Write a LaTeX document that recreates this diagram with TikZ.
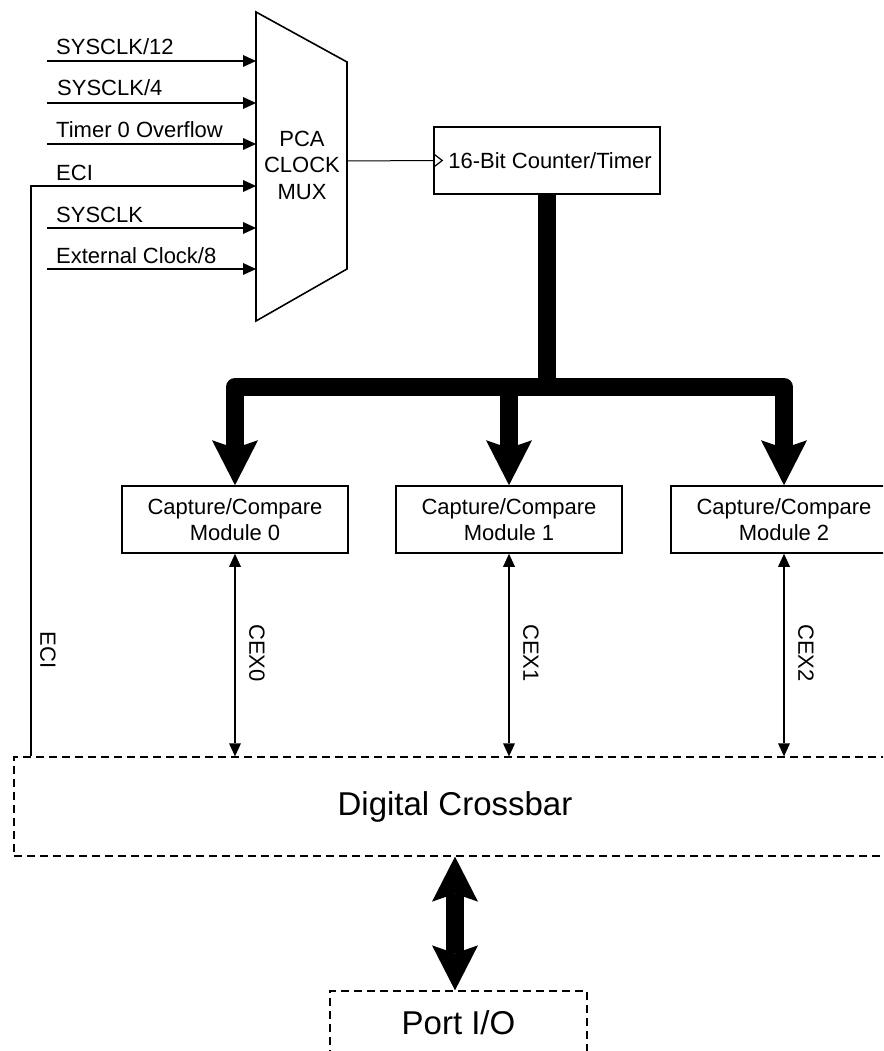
\documentclass[tikz,border=0pt]{standalone}
\usepackage{fontspec}
\setmainfont{Liberation Sans}
\usetikzlibrary{arrows.meta}
\tikzset{
  bigtip/.tip={Stealth[length=45pt,width=46pt,inset=8pt,line width=0pt]},
  smalltip/.tip={Triangle[length=13pt,width=12pt,line width=0pt]},
  txt/.style={font=\fontsize{22}{26.5}\selectfont, inner sep=0pt},
  box/.style={draw, line width=1.6pt, minimum width=226pt, minimum height=67pt, inner sep=0pt, align=center, txt},
  dbox/.style={draw, line width=1.3pt, dash pattern=on 8pt off 5pt, inner sep=0pt, font=\fontsize{33}{38}\selectfont},
  inline/.style={line width=2pt, -{smalltip}},
  cex/.style={line width=1.8pt, {smalltip}-{smalltip}},
  bus/.style={line width=18pt, line join=round},
  lbl/.style={txt, anchor=base west},
  vlbl/.style={txt, rotate=-90}
}
\begin{document}
\begin{tikzpicture}[x=1pt,y=-1pt]
\clip (0,0) rectangle (883,1051);
\fill[white] (0,0) rectangle (883,1051);

% MUX
\coordinate (mtl) at (256,12);
\coordinate (mtr) at (347,62);
\coordinate (mbr) at (347,269);
\coordinate (mbl) at (256,321);
\draw[line width=1.6pt, line join=miter] (mtl) -- (mtr) -- (mbr) -- (mbl) -- cycle;
\node[txt, align=center] (muxt) at (302,165) {PCA\\CLOCK\\MUX};
\coordinate (mout) at (347,161);

% inputs
\coordinate (i1s) at (47,61);  \coordinate (i1e) at (256,61);
\coordinate (i2s) at (47,103); \coordinate (i2e) at (256,103);
\coordinate (i3s) at (47,144); \coordinate (i3e) at (256,144);
\coordinate (i4c) at (31,186); \coordinate (i4e) at (256,186);
\coordinate (i5s) at (47,228); \coordinate (i5e) at (256,228);
\coordinate (i6s) at (47,269); \coordinate (i6e) at (256,269);
\draw[inline] (i1s) -- (i1e);
\draw[inline] (i2s) -- (i2e);
\draw[inline] (i3s) -- (i3e);
\draw[inline] (i5s) -- (i5e);
\draw[inline] (i6s) -- (i6e);
\node[lbl] (l1) at (56,55) {SYSCLK/12};
\node[lbl] (l2) at (57,96) {SYSCLK/4};
\node[lbl] (l3) at (56,138) {Timer 0 Overflow};
\node[lbl] (l4) at (56,180) {ECI};
\node[lbl] (l5) at (56,222) {SYSCLK};
\node[lbl] (l6) at (56,263) {External Clock/8};

% counter
\node[box] (ctr) at (547,160.5) {\hspace*{6pt}16-Bit Counter/Timer};
\draw[line width=1pt] (mout) -- (ctr.west);
\draw[line width=1.2pt, line join=miter] ([yshift=7pt]ctr.west) -- ([xshift=9pt]ctr.west) -- ([yshift=-7pt]ctr.west);

% modules
\node[box] (m0) at (235,519.5) {Capture/Compare\\Module 0};
\node[box] (m1) at (509,519.5) {Capture/Compare\\Module 1};
\node[box] (m2) at (784,519.5) {Capture/Compare\\Module 2};

% bus
\coordinate (bl) at (235,387);
\coordinate (br) at (784,387);
\coordinate (bm) at (509,387);
\coordinate (bc) at (547,387);
\draw[bus] (ctr.south) -- (bc);
\draw[bus, {bigtip}-{bigtip}] (m0.north) -- (bl) -- (br) -- (m2.north);
\draw[bus, -{bigtip}] (bm) -- (m1.north);

% crossbar
\node[dbox, minimum width=882pt, minimum height=99pt] (xbar) at (455,806.5) {Digital Crossbar};
\node[dbox, minimum width=257pt, minimum height=64pt] (port) at (458.5,1023) {Port I/O};
\draw[bus, {bigtip}-{bigtip}] (xbar.south) -- (xbar.south |- port.north);

% CEX
\draw[cex] (m0.south) -- (m0.south |- xbar.north);
\draw[cex] (m1.south) -- (m1.south |- xbar.north);
\draw[cex] (m2.south) -- (m2.south |- xbar.north);
\node[vlbl] (c0) at (257,653) {CEX0};
\node[vlbl] (c1) at (531,653) {CEX1};
\node[vlbl] (c2) at (806,653) {CEX2};

% ECI
\draw[inline] (xbar.north -| i4c) -- (i4c) -- (i4e);
\node[vlbl] (eci) at (48,650) {ECI};
\end{tikzpicture}
\end{document}
